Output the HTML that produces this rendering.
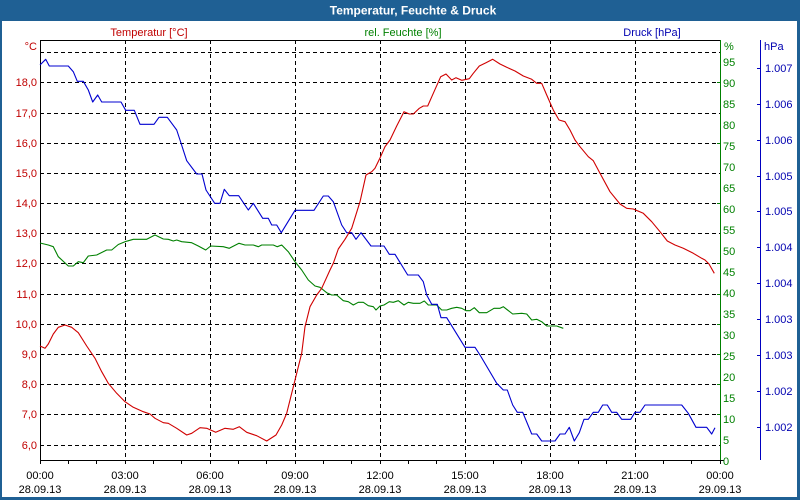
<!DOCTYPE html>
<html><head><meta charset="utf-8"><style>
html,body{margin:0;padding:0;}
body{width:800px;height:500px;background:#1f6094;overflow:hidden;position:relative;}
svg{position:absolute;left:0;top:0;}
text{font-family:"Liberation Sans",sans-serif;font-size:11px;}
</style></head><body>
<svg width="800" height="500" viewBox="0 0 800 500" xmlns="http://www.w3.org/2000/svg">
<rect x="0" y="0" width="800" height="500" fill="#1f6094"/>
<rect x="2" y="21" width="795" height="476" fill="#ffffff"/>
<text x="413" y="14.5" text-anchor="middle" fill="#ffffff" style="font-weight:bold;font-size:12px">Temperatur, Feuchte &amp; Druck</text>

<!-- legend labels -->
<text x="149" y="36" text-anchor="middle" fill="#c00000">Temperatur [°C]</text>
<text x="403" y="36" text-anchor="middle" fill="#008000">rel. Feuchte [%]</text>
<text x="652" y="36" text-anchor="middle" fill="#0000b0">Druck [hPa]</text>
<text x="37" y="50" text-anchor="end" fill="#c00000">°C</text>
<text x="724" y="50" fill="#008000">%</text>
<text x="764" y="50" fill="#0000b0">hPa</text>

<!-- grid -->
<g stroke="#000" stroke-width="1" stroke-dasharray="4,3" shape-rendering="crispEdges" fill="none">
<line x1="40" y1="52.5" x2="720" y2="52.5"/>
<line x1="40" y1="82.5" x2="720" y2="82.5"/>
<line x1="40" y1="113.5" x2="720" y2="113.5"/>
<line x1="40" y1="143.5" x2="720" y2="143.5"/>
<line x1="40" y1="173.5" x2="720" y2="173.5"/>
<line x1="40" y1="203.5" x2="720" y2="203.5"/>
<line x1="40" y1="233.5" x2="720" y2="233.5"/>
<line x1="40" y1="263.5" x2="720" y2="263.5"/>
<line x1="40" y1="294.5" x2="720" y2="294.5"/>
<line x1="40" y1="324.5" x2="720" y2="324.5"/>
<line x1="40" y1="354.5" x2="720" y2="354.5"/>
<line x1="40" y1="384.5" x2="720" y2="384.5"/>
<line x1="40" y1="414.5" x2="720" y2="414.5"/>
<line x1="40" y1="445.5" x2="720" y2="445.5"/>
<line x1="125.5" y1="40" x2="125.5" y2="460"/>
<line x1="210.5" y1="40" x2="210.5" y2="460"/>
<line x1="295.5" y1="40" x2="295.5" y2="460"/>
<line x1="380.5" y1="40" x2="380.5" y2="460"/>
<line x1="465.5" y1="40" x2="465.5" y2="460"/>
<line x1="550.5" y1="40" x2="550.5" y2="460"/>
<line x1="635.5" y1="40" x2="635.5" y2="460"/>
</g>

<!-- axes -->
<g shape-rendering="crispEdges" stroke-width="1" fill="none">
<line x1="40.5" y1="40" x2="40.5" y2="461" stroke="#000"/>
<line x1="40" y1="40.5" x2="721" y2="40.5" stroke="#000"/>
<line x1="40" y1="460.5" x2="721" y2="460.5" stroke="#000"/>
<line x1="720.5" y1="40" x2="720.5" y2="461" stroke="#008000"/>
<line x1="716" y1="460.5" x2="724" y2="460.5" stroke="#000"/>
<line x1="760.5" y1="40" x2="760.5" y2="460" stroke="#0000c0"/>
<g stroke="#000">
<line x1="40.5" y1="460" x2="40.5" y2="464"/><line x1="68.5" y1="460" x2="68.5" y2="464"/><line x1="96.5" y1="460" x2="96.5" y2="464"/>
<line x1="125.5" y1="460" x2="125.5" y2="464"/><line x1="153.5" y1="460" x2="153.5" y2="464"/><line x1="181.5" y1="460" x2="181.5" y2="464"/>
<line x1="210.5" y1="460" x2="210.5" y2="464"/><line x1="238.5" y1="460" x2="238.5" y2="464"/><line x1="266.5" y1="460" x2="266.5" y2="464"/>
<line x1="295.5" y1="460" x2="295.5" y2="464"/><line x1="323.5" y1="460" x2="323.5" y2="464"/><line x1="351.5" y1="460" x2="351.5" y2="464"/>
<line x1="380.5" y1="460" x2="380.5" y2="464"/><line x1="408.5" y1="460" x2="408.5" y2="464"/><line x1="436.5" y1="460" x2="436.5" y2="464"/>
<line x1="465.5" y1="460" x2="465.5" y2="464"/><line x1="493.5" y1="460" x2="493.5" y2="464"/><line x1="521.5" y1="460" x2="521.5" y2="464"/>
<line x1="550.5" y1="460" x2="550.5" y2="464"/><line x1="578.5" y1="460" x2="578.5" y2="464"/><line x1="606.5" y1="460" x2="606.5" y2="464"/>
<line x1="635.5" y1="460" x2="635.5" y2="464"/><line x1="663.5" y1="460" x2="663.5" y2="464"/><line x1="691.5" y1="460" x2="691.5" y2="464"/>
<line x1="720.5" y1="460" x2="720.5" y2="464"/>
</g>
<g stroke="#008000">
<line x1="717" y1="82.5" x2="720" y2="82.5"/><line x1="717" y1="143.5" x2="720" y2="143.5"/><line x1="717" y1="203.5" x2="720" y2="203.5"/>
<line x1="717" y1="263.5" x2="720" y2="263.5"/><line x1="717" y1="294.5" x2="720" y2="294.5"/><line x1="717" y1="324.5" x2="720" y2="324.5"/>
<line x1="717" y1="354.5" x2="720" y2="354.5"/><line x1="717" y1="384.5" x2="720" y2="384.5"/><line x1="717" y1="414.5" x2="720" y2="414.5"/>
</g>
<g stroke="#0000c0">
<line x1="757" y1="68.5" x2="760" y2="68.5"/><line x1="757" y1="104.5" x2="760" y2="104.5"/><line x1="757" y1="140.5" x2="760" y2="140.5"/>
<line x1="757" y1="176.5" x2="760" y2="176.5"/><line x1="757" y1="211.5" x2="760" y2="211.5"/><line x1="757" y1="247.5" x2="760" y2="247.5"/>
<line x1="757" y1="283.5" x2="760" y2="283.5"/><line x1="757" y1="319.5" x2="760" y2="319.5"/><line x1="757" y1="355.5" x2="760" y2="355.5"/>
<line x1="757" y1="391.5" x2="760" y2="391.5"/><line x1="757" y1="427.5" x2="760" y2="427.5"/>
</g>
</g>

<!-- temp labels -->
<g fill="#c00000" text-anchor="end">
<text x="37" y="449">6,0</text><text x="37" y="418">7,0</text><text x="37" y="388">8,0</text>
<text x="37" y="358">9,0</text><text x="37" y="328">10,0</text><text x="37" y="298">11,0</text>
<text x="37" y="267">12,0</text><text x="37" y="237">13,0</text><text x="37" y="207">14,0</text>
<text x="37" y="177">15,0</text><text x="37" y="147">16,0</text><text x="37" y="117">17,0</text>
<text x="37" y="86">18,0</text>
</g>

<!-- humidity labels -->
<g fill="#008000">
<text x="723" y="465">0</text><text x="723" y="444">5</text><text x="723" y="423">10</text>
<text x="723" y="402">15</text><text x="723" y="381">20</text><text x="723" y="360">25</text>
<text x="723" y="339">30</text><text x="723" y="318">35</text><text x="723" y="297">40</text>
<text x="723" y="276">45</text><text x="723" y="255">50</text><text x="723" y="234">55</text>
<text x="723" y="213">60</text><text x="723" y="192">65</text><text x="723" y="171">70</text>
<text x="723" y="150">75</text><text x="723" y="129">80</text><text x="723" y="108">85</text>
<text x="723" y="87">90</text><text x="723" y="66">95</text>
</g>

<!-- pressure labels -->
<g fill="#0000b0">
<text x="765" y="72">1.007</text><text x="765" y="108">1.006</text><text x="765" y="144">1.006</text>
<text x="765" y="180">1.005</text><text x="765" y="215">1.005</text><text x="765" y="251">1.004</text>
<text x="765" y="287">1.004</text><text x="765" y="323">1.003</text><text x="765" y="359">1.003</text>
<text x="765" y="395">1.002</text><text x="765" y="431">1.002</text>
</g>

<!-- time labels -->
<g fill="#000" text-anchor="middle">
<text x="40" y="479">00:00</text><text x="125" y="479">03:00</text><text x="210" y="479">06:00</text>
<text x="295" y="479">09:00</text><text x="380" y="479">12:00</text><text x="465" y="479">15:00</text>
<text x="550" y="479">18:00</text><text x="635" y="479">21:00</text><text x="720" y="479">00:00</text>
<text x="40" y="493">28.09.13</text><text x="125" y="493">28.09.13</text><text x="210" y="493">28.09.13</text>
<text x="295" y="493">28.09.13</text><text x="380" y="493">28.09.13</text><text x="465" y="493">28.09.13</text>
<text x="550" y="493">28.09.13</text><text x="635" y="493">28.09.13</text><text x="720" y="493">29.09.13</text>
</g>

<!-- series -->
<g fill="none" stroke-width="1.1" stroke-linejoin="round">
<polyline stroke="#008000" points="40,243 48.3,245 53.3,246.7 58.3,256.7 68.3,266 73.3,266 78.3,261.7 83.3,262.7 88.3,256 96.7,255 106.7,250 111.7,250 118.3,244.5 125,241.7 133.3,239.3 146.7,239.3 155,235 163.3,239 168.3,239.3 173.3,241 176.7,240 181.7,241.7 191.7,242.7 198.3,246 205.7,250 210.7,246 223.3,246.7 229.3,248.3 239,243.3 245,245 253.3,245 258.3,246.7 261.7,245 273.3,245 277.3,246.7 281.7,245 288.3,251.7 295,261.7 301.7,270 308.3,280 315,286 320,287.3 326.7,292.7 331.7,295 336.7,295 343.3,300.7 348.3,301.7 353.3,305 358.3,302.3 363.3,302.3 368.3,305.7 373.3,306.7 376,310 380,306 384,305 389.3,301.7 393.3,302.3 398.3,300.7 404,305 408.3,302.3 413.3,303.3 420,303.3 424.3,301 428.3,305 436.7,305 441.7,310 446.7,310 451.7,308.3 456.7,307.3 461.7,308.3 466,310.7 470,310.7 474.3,307.7 479.3,312.7 486.7,312.7 494,308.3 500,308.3 503.3,306.7 512.7,314 521.7,313.3 526.7,314 531.7,320 536.7,319.3 541.7,321.7 546.7,326 556.7,326 563.3,328.3"/>
<polyline stroke="#0000d0" points="40,65 45.7,59.3 49.3,66 68.3,66 73.3,71.7 77.3,81.3 83.3,81.3 88.3,90 92.7,102 97.7,95 101.7,102 121,102 125.7,110.3 134.3,110.3 140,124.3 154,124.3 159,117.3 167.3,117.3 176.7,130 180,140 186.7,160.7 196.7,174 202,174 206,190 214.7,203.3 220,203.3 224.3,189.3 229.3,195.7 238.7,195.7 248.3,210 253.3,203.3 262.7,218.3 268.3,218.3 271.7,225 276.7,225 281.3,232.7 295,210.3 314,210.3 323.3,196 328.3,196 333.3,201.7 341.7,225 346.7,232.7 351.7,232.7 356,239.3 361,232.7 371,246 384,246 389.3,254.3 395,254.3 407.7,275 418.3,275 423.3,281.7 426.7,295 431.7,304.3 437.3,304.3 441,317.7 446.7,317.7 465,347.3 475,347.3 480,355 496.7,383.3 503.3,390 507.3,390 512.7,405 517.3,412.3 522.7,412.3 531.7,434 536.7,434 541.7,441 555,441 560,434 565,434 569.3,427.3 574.3,441 579.3,432.7 584,419.3 588.3,419.3 593.3,412.3 598.3,412.3 602.7,405 607.3,405 611.7,412.3 616.7,412.3 621.7,419.3 630.7,419.3 635,412.3 640,412.3 645,405 681.7,405 688.3,413.3 696,427.3 706.7,427.3 711.7,434 715,427.7"/>
<polyline stroke="#d00000" points="40,346 45,348.3 48.3,344 53.3,334 58.3,327.3 65,325 71.7,327.3 78.3,332.7 86.7,346 95,358.3 101.7,371.7 108.3,383.3 116.7,393.3 125,401.7 133.3,407.3 143.3,411.7 150,414 155,418.3 163.3,422.7 168.3,423.3 176.7,428.3 186.7,435 191.7,433.3 200,427.7 206.7,428.3 215.7,432.3 225,428.3 233.3,429.3 239.3,426.7 246.7,432.3 256.7,435.7 266.7,441 276,435 281.7,425 286.7,413.3 291.7,393.3 296.7,373.3 301.7,353.3 305,326.7 310,306.7 316.7,295 321.7,288.3 330,270 333.3,263.3 338.3,249 345,239.3 351.7,228.3 360,201.7 366,175 371.7,171.7 375,168.3 380,158 385,146.7 390,140 396.7,126 404,111.7 409.3,114 413.3,114 419.3,108.3 423.3,106 427.7,106 433.3,93.3 440.7,76.7 446,74 451.7,80 456,77.7 461.7,80.3 469.3,78.7 473.3,73.3 479.3,66 486,62.7 492.7,59.3 500,64 506.7,67.3 515,71 523.3,76 531.7,79.3 536.7,83.3 541.7,83.3 546.7,95 553.3,110 559,120 565,121.7 570,130 575,140 580,146.7 588.3,156.7 593.3,160.7 600,173.3 610,191.7 620,204 626.7,208.3 633.3,209 643.3,213.3 651.7,221.7 660,231.7 667.3,241 675,245 683.3,248.3 693.3,253.3 701.7,258.3 705,260 709,264 714.3,273.3"/>
</g>
</svg>
</body></html>
